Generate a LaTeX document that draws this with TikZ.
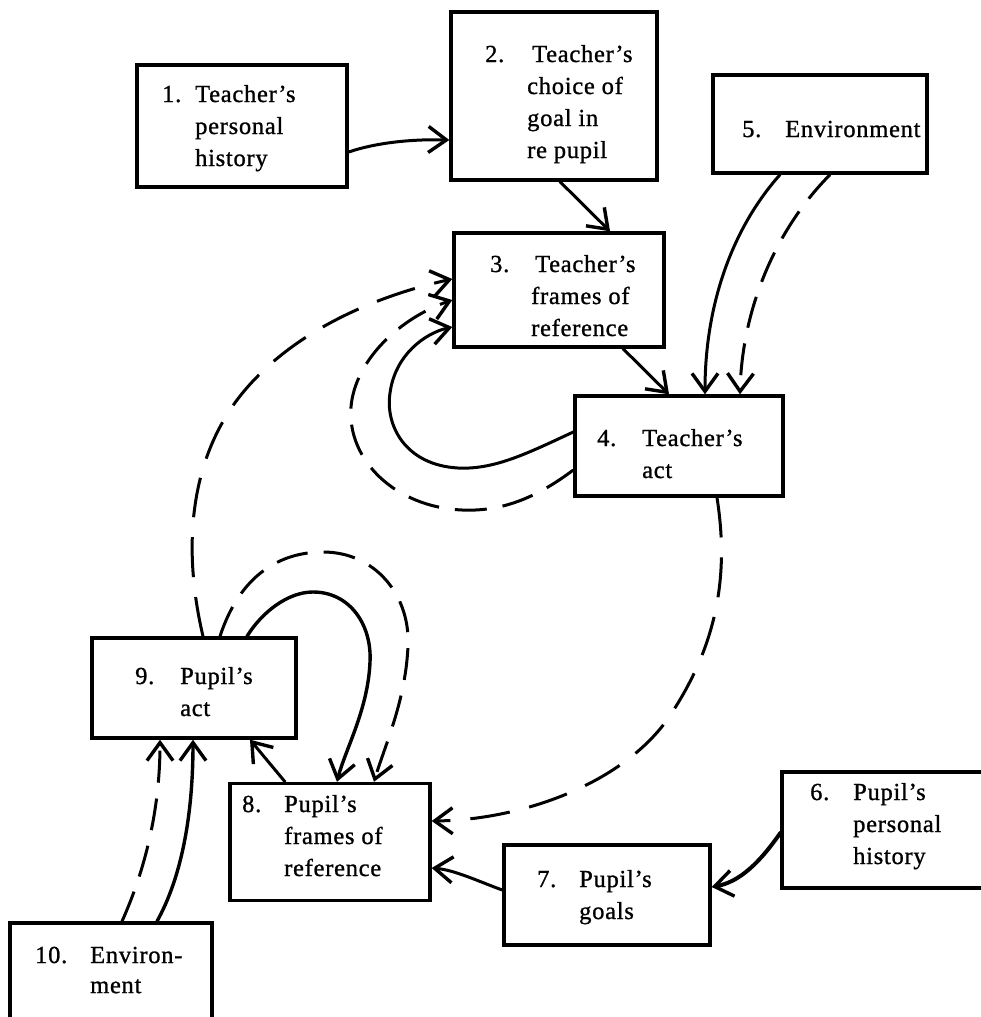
\documentclass[tikz,border=0pt]{standalone}
\usepackage{fontspec}
\setmainfont{Liberation Serif}[LetterSpace=3,FakeBold=1]
\usetikzlibrary{arrows.meta}
\newcommand\bxtext[2]{\begin{tabular}[t]{@{}p{#1}@{}l@{}}#2\end{tabular}}
\begin{document}
\begin{tikzpicture}[x=1pt,y=-1pt,
  box/.style={draw,line width=3.4pt,rectangle,inner sep=0pt},
  txt/.style={anchor=base west,inner sep=0pt,font=\fontsize{24.5}{32}\selectfont},
  conn/.style={line width=3pt,line cap=round,-{Straight Barb[length=18pt,width=26pt,line width=3.4pt]}},
  dsh/.style={conn,line cap=butt,dash pattern=on 32pt off 16pt},
  ldsh/.style={conn,line cap=butt,dash pattern=on 40pt off 20pt}]
\useasboundingbox (0,0) rectangle (981,1017);
\clip (0,0) rectangle (981,1017);
% boxes
\node[box,minimum width=210pt,minimum height=122pt] (b1) at (242,126) {};
\node[box,minimum width=206pt,minimum height=168pt] (b2) at (554,96) {};
\node[box,minimum width=210pt,minimum height=114pt] (b3) at (559,290) {};
\node[box,minimum width=208pt,minimum height=100pt] (b4) at (679,446) {};
\node[box,minimum width=214pt,minimum height=98pt] (b5) at (820,124) {};
\node[box,minimum width=220pt,minimum height=116pt] (b6) at (892,830) {};
\node[box,minimum width=206pt,minimum height=100pt] (b7) at (607,895) {};
\node[box,minimum width=200pt,minimum height=117pt] (b8) at (330,842) {};
\node[box,minimum width=204pt,minimum height=100pt] (b9) at (194,688) {};
\node[box,minimum width=202pt,minimum height=114pt] (b10) at (111,980) {};
% texts
\node[txt] (t1) at (162,102) {\bxtext{33pt}{1. & Teacher's\\ & personal\\ & history}};
\node[txt] (t2) at (485,62) {\bxtext{42pt}{2. & \hspace{5pt}Teacher's\\ & choice of\\ & goal in\\ & re pupil}};
\node[txt] (t3) at (490,272) {\bxtext{41pt}{3. & \hspace{4pt}Teacher's\\ & frames of\\ & reference}};
\node[txt] (t4) at (597,446) {\bxtext{45pt}{4. & Teacher's\\ & act}};
\node[txt] (t5) at (742,137) {\bxtext{43pt}{5. & Environment}};
\node[txt] (t6) at (810,800) {\bxtext{43pt}{6. & Pupil's\\ & personal\\ & history}};
\node[txt] (t7) at (537,887) {\bxtext{42pt}{7. & Pupil's\\ & goals}};
\node[txt] (t8) at (242,812) {\bxtext{42pt}{8. & Pupil's\\ & frames of\\ & reference}};
\node[txt] (t9) at (135,684) {\bxtext{45pt}{9. & Pupil's\\ & act}};
\node[txt] (t10) at (35,963) {\renewcommand\arraystretch{0.94}\bxtext{55pt}{10. & Environ-\\ & ment}};
% connectors
\draw[conn] ([yshift=-26pt]b1.east) .. controls (375,143) and (410,139) .. ([yshift=-44pt]b2.west);
\draw[conn] ([xshift=6pt]b2.south) -- ([xshift=51pt]b3.north);
\draw[conn] ([xshift=64pt]b3.south) -- ([xshift=-10pt]b4.north);
\draw[conn] ([xshift=-40pt]b5.south) .. controls (735,225) and (705,300) .. ([xshift=26pt]b4.north);
\draw[dsh] ([xshift=10pt]b5.south) .. controls (775,230) and (742,310) .. ([xshift=61pt]b4.north);
\draw[conn] ([yshift=14pt]b4.west) .. controls (530,452) and (495,470) .. (458,468)
   .. controls (405,465) and (385,425) .. (390,393)
   .. controls (395,355) and (425,333) .. ([yshift=-37pt]b3.west);
\draw[dsh] ([yshift=-24pt]b4.west) .. controls (540,495) and (505,512) .. (462,510)
   .. controls (395,507) and (347,460) .. (351,407)
   .. controls (355,360) and (400,318) .. ([yshift=-10pt]b3.west);
\draw[ldsh] ([xshift=9pt]b9.north) .. controls (185,560) and (185,470) .. (237,400)
   .. controls (290,330) and (380,295) .. ([yshift=11pt]b3.west);
\draw[dsh] ([xshift=26pt]b9.north) .. controls (240,575) and (280,552) .. (323,552)
   .. controls (375,552) and (410,595) .. (408,645)
   .. controls (406,700) and (385,745) .. ([xshift=44pt]b8.north);
\draw[conn,line width=3.4pt] ([xshift=53pt]b9.north) .. controls (262,612) and (288,592) .. (313,592)
   .. controls (350,592) and (372,625) .. (370,662)
   .. controls (368,710) and (345,750) .. ([xshift=7pt]b8.north);
\draw[conn] ([xshift=-45pt]b8.north) -- ([xshift=56pt]b9.south);
\draw[conn,line width=3.4pt] ([xshift=46pt]b10.north) .. controls (180,880) and (193,820) .. ([xshift=-1pt]b9.south);
\draw[dsh] ([xshift=11pt]b10.north) .. controls (145,870) and (160,810) .. ([xshift=-34pt]b9.south);
\draw[ldsh] ([xshift=38pt]b4.south) .. controls (730,580) and (715,650) .. (667,720)
   .. controls (620,785) and (520,820) .. ([yshift=21pt]b8.east);
\draw[conn,line width=4pt] ([yshift=-3pt]b6.west) .. controls (760,862) and (740,882) .. ([yshift=8pt]b7.east);
\draw[conn] ([yshift=5pt]b7.west) .. controls (480,882) and (455,870) .. ([yshift=-26pt]b8.east);
\end{tikzpicture}
\end{document}
